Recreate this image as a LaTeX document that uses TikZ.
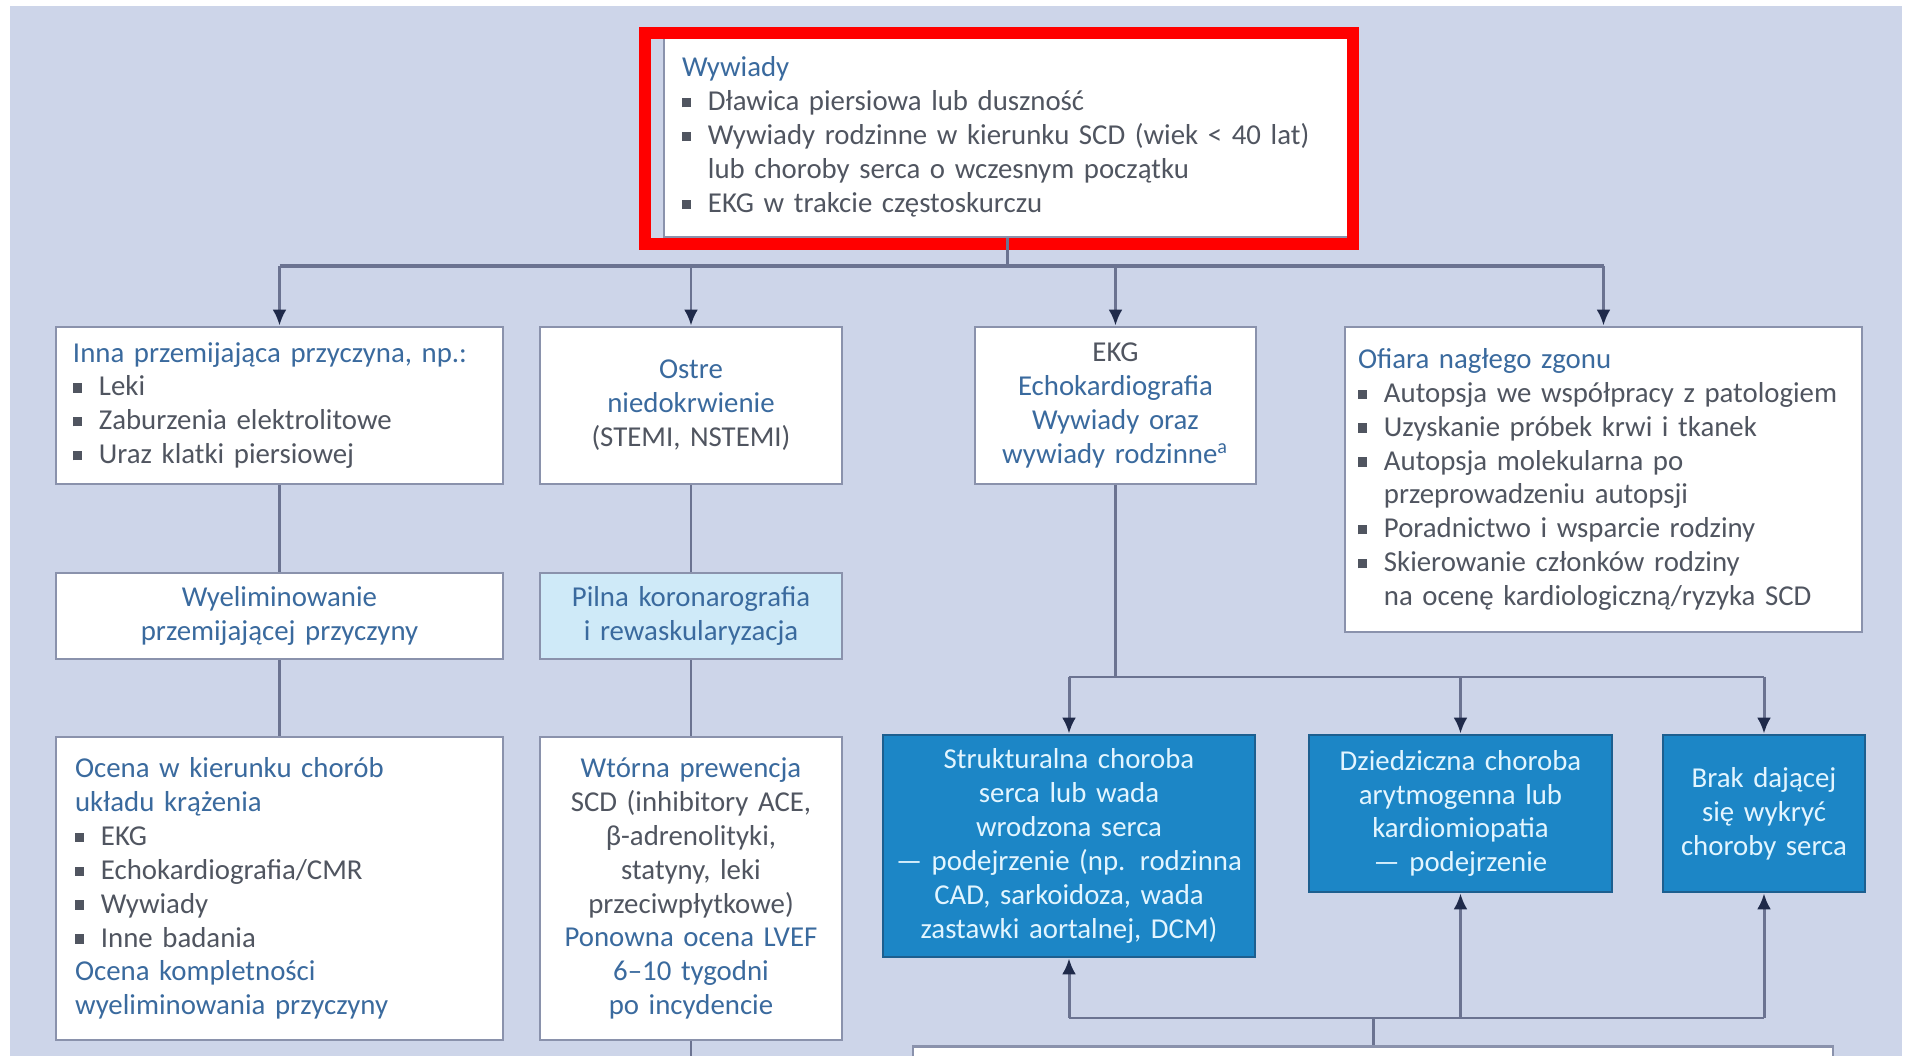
\documentclass[tikz,border=0pt]{standalone}
\usepackage{fontspec}
\setmainfont{Carlito}
\usepackage{xcolor}
\usetikzlibrary{arrows.meta,calc}

\definecolor{panelBg}{HTML}{CDD5E9}
\definecolor{boxLine}{HTML}{8A92AC}
\definecolor{linkLine}{HTML}{6B7391}
\definecolor{tipNavy}{HTML}{1F2A4A}
\definecolor{headBlue}{HTML}{3A6A9E}
\definecolor{bodyGrey}{HTML}{505560}
\definecolor{paleCyan}{HTML}{CFEAF8}
\definecolor{deepBlue}{HTML}{1C86C6}
\definecolor{deepLine}{HTML}{1D5F8F}
\definecolor{deepText}{HTML}{E2F5FF}
\definecolor{markRed}{HTML}{FF0000}

\tikzstyle{tsText} = [
    font=\fontsize{8.2}{9.65}\selectfont,
    text=bodyGrey
]
\tikzstyle{tsBox} = [
    rectangle,
    tsText,
    draw=boxLine,
    line width=0.8pt,
    fill=white,
    inner sep=0pt
]
\tikzstyle{tsBoxLeft} = [
    tsBox,
    align=left
]
\tikzstyle{tsBoxCenter} = [
    tsBox,
    align=center
]
\tikzstyle{tsDeepBox} = [
    tsBox,
    text=deepText,
    draw=deepLine,
    fill=deepBlue,
    align=center
]
\tikzstyle{tsLink} = [
    draw=linkLine,
    line width=0.85pt
]
\tikzstyle{tsArrow} = [
    tsLink,
    -{Latex[length=1.6mm,width=1.4mm,color=tipNavy]}
]

\newcommand{\hd}[1]{\textcolor{headBlue}{#1}}
\newcommand{\itm}{\makebox[0.9em][l]{\rule[0.25ex]{0.32em}{0.32em}}}
\newcommand{\cnt}{\hspace*{0.9em}}

\begin{document}
\begin{tikzpicture}
    \useasboundingbox (0,0) rectangle (19.10,10.56);
    \clip (0,0) rectangle (19.10,10.56);

    % Background panel
    \fill[white] (0,0) rectangle (19.10,10.56);
    \fill[panelBg] (0.10,0) rectangle (19.02,10.50);

    % History
    \node[  tsBoxLeft,
            minimum width=6.86cm,
            minimum height=2.0cm,
            text width=6.5cm] (hist) at (10.07,9.19) {\hd{Wywiady}\\
            \itm Dławica piersiowa lub duszność\\
            \itm Wywiady rodzinne w kierunku SCD (wiek < 40 lat)\\
            \cnt lub choroby serca o wczesnym początku\\
            \itm EKG w trakcie częstoskurczu};

    % Red highlight
    \draw[markRed, line width=0.12cm] (6.45,8.12) rectangle (13.53,10.23);

    % First row
    \node[  tsBoxLeft,
            minimum width=4.47cm,
            minimum height=1.57cm,
            text width=4.13cm] (trans) at (2.795,6.505) {\hd{Inna przemijająca przyczyna, np.:}\\
            \itm Leki\\
            \itm Zaburzenia elektrolitowe\\
            \itm Uraz klatki piersiowej};

    \node[  tsBoxCenter,
            minimum width=3.02cm,
            minimum height=1.57cm,
            text width=2.8cm] (ischem) at (6.91,6.505) {\hd{Ostre}\\
            \hd{niedokrwienie}\\
            (STEMI, NSTEMI)};

    \node[  tsBoxCenter,
            minimum width=2.81cm,
            minimum height=1.57cm,
            text width=2.6cm] (ecg) at (11.155,6.505) {EKG\\
            \hd{Echokardiografia}\\
            \hd{Wywiady oraz}\\
            \hd{wywiady rodzinne\textsuperscript{a}}};

    \node[  tsBoxLeft,
            minimum width=5.17cm,
            minimum height=3.05cm,
            text width=4.91cm] (victim) at (16.035,5.765) {\hd{Ofiara nagłego zgonu}\\
            \itm Autopsja we współpracy z patologiem\\
            \itm Uzyskanie próbek krwi i tkanek\\
            \itm Autopsja molekularna po\\
            \cnt przeprowadzeniu autopsji\\
            \itm Poradnictwo i wsparcie rodziny\\
            \itm Skierowanie członków rodziny\\
            \cnt na ocenę kardiologiczną/ryzyka SCD};

    % Top bus with arrows
    \coordinate (busL) at (2.795,7.90);
    \coordinate (busR) at (16.035,7.90);
    \draw[tsLink, line width=1.4pt] (busL) -- (busR);
    \draw[tsLink] (hist.south) -- (hist.south |- busL);
    \foreach \n in {trans,ischem,ecg,victim}
        \draw[tsArrow] (\n.north |- busL) -- (\n.north);

    % Second row
    \node[  tsBoxCenter,
            minimum width=4.47cm,
            minimum height=0.86cm,
            text width=4.2cm] (elim) at (2.795,4.40) {\hd{Wyeliminowanie}\\
            \hd{przemijającej przyczyny}};

    \node[  tsBoxCenter,
            fill=paleCyan,
            minimum width=3.02cm,
            minimum height=0.86cm,
            text width=2.9cm] (angio) at (6.91,4.40) {\hd{Pilna koronarografia}\\
            \hd{i rewaskularyzacja}};

    % Third row
    \node[  tsBoxLeft,
            minimum width=4.47cm,
            minimum height=3.03cm,
            text width=4.09cm] (eval) at (2.795,1.675) {\hd{Ocena w kierunku chorób}\\
            \hd{układu krążenia}\\
            \itm EKG\\
            \itm Echokardiografia/CMR\\
            \itm Wywiady\\
            \itm Inne badania\\
            \hd{Ocena kompletności}\\
            \hd{wyeliminowania przyczyny}};

    \node[  tsBoxCenter,
            minimum width=3.02cm,
            minimum height=3.03cm,
            text width=2.9cm] (prev) at (6.91,1.675) {\hd{Wtórna prewencja}\\
            SCD (inhibitory ACE,\\
            β-adrenolityki,\\
            statyny, leki\\
            przeciwpłytkowe)\\
            \hd{Ponowna ocena LVEF}\\
            \hd{6–10 tygodni}\\
            \hd{po incydencie}};

    % Vertical links on the left
    \draw[tsLink] (trans) -- (elim);
    \draw[tsLink] (elim) -- (eval);
    \draw[tsLink] (ischem) -- (angio);
    \draw[tsLink] (angio) -- (prev);
    \coordinate (prevEnd) at (6.91,-0.10);
    \draw[tsLink] (prev) -- (prevEnd);

    % Diagnosis boxes
    \node[  tsDeepBox,
            minimum width=3.72cm,
            minimum height=2.22cm,
            text width=3.6cm] (struct) at (10.69,2.10) {Strukturalna choroba\\
            serca lub wada\\
            wrodzona serca\\
            — podejrzenie (np. rodzinna\\
            CAD, sarkoidoza, wada\\
            zastawki aortalnej, DCM)};

    \node[  tsDeepBox,
            minimum width=3.03cm,
            minimum height=1.57cm,
            text width=2.9cm] (inher) at (14.605,2.425) {Dziedziczna choroba\\
            arytmogenna lub\\
            kardiomiopatia\\
            — podejrzenie};

    \node[  tsDeepBox,
            minimum width=2.02cm,
            minimum height=1.57cm,
            text width=1.9cm] (nodis) at (17.64,2.425) {Brak dającej\\
            się wykryć\\
            choroby serca};

    % Split from ECG box
    \coordinate (splitY) at (11.155,3.79);
    \draw[tsLink] (ecg) -- (ecg.south |- splitY);
    \draw[tsLink] (struct.north |- splitY) -- (nodis.north |- splitY);
    \foreach \n in {struct,inher,nodis}
        \draw[tsArrow] (\n.north |- splitY) -- (\n.north);

    % Follow-up box (cut off)
    \node[  tsBox,
            anchor=north,
            minimum width=9.2cm,
            minimum height=0.6cm] (follow) at (13.73,0.11) {};

    \coordinate (joinY) at (13.73,0.38);
    \draw[tsLink] (struct.south |- joinY) -- (nodis.south |- joinY);
    \draw[tsLink] (follow.north |- joinY) -- (follow.north);
    \foreach \n in {struct,inher,nodis}
        \draw[tsArrow] (\n.south |- joinY) -- (\n.south);
\end{tikzpicture}
\end{document}
